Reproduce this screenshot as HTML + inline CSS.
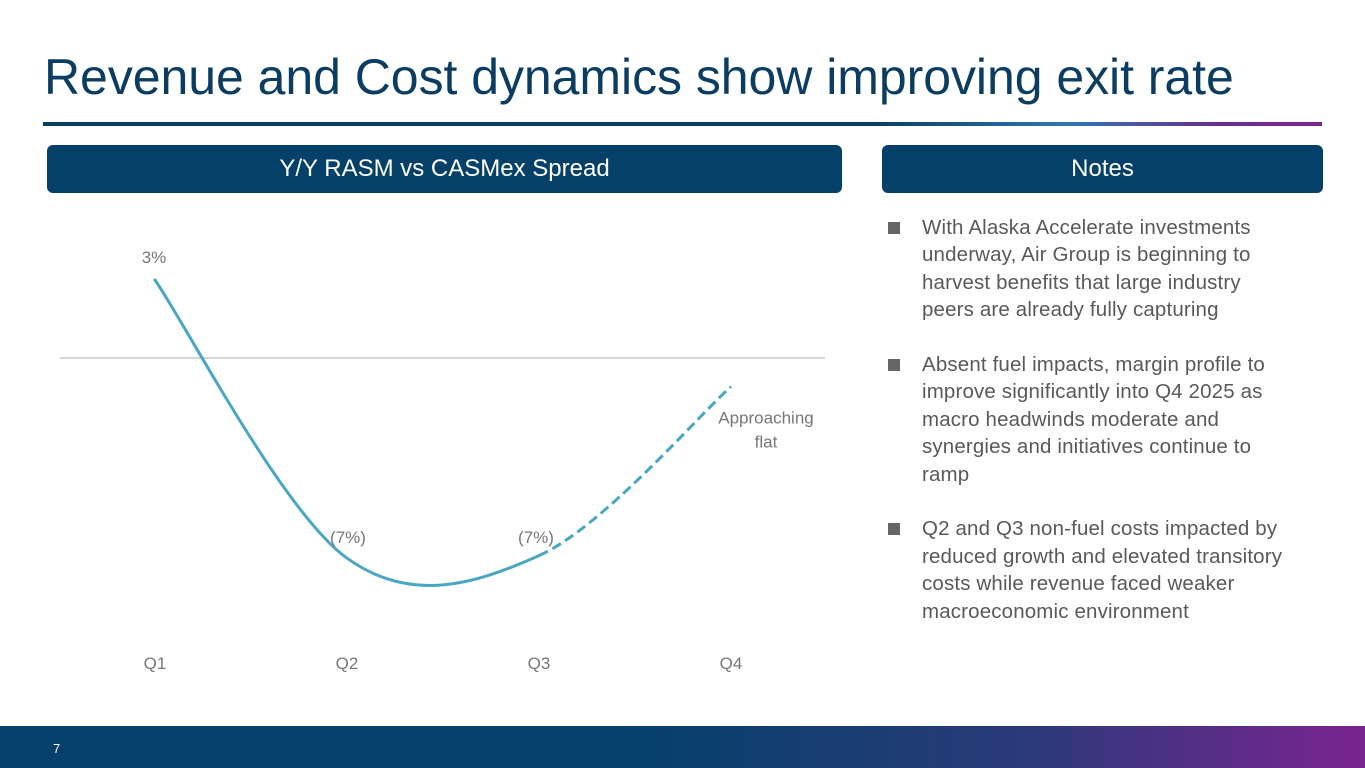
<!DOCTYPE html>
<html><head><meta charset="utf-8">
<style>
body{margin:0;width:1365px;height:768px;overflow:hidden;background:#fff;font-family:"Liberation Sans",sans-serif;position:relative}
.abs{position:absolute}
.title{left:44px;top:48px;font-size:50px;color:#0b3d63;white-space:nowrap;letter-spacing:-0.05px}
.rule{left:43px;top:122px;width:1279px;height:4px;background:linear-gradient(90deg,#0b3d63 0%,#0b3d63 65%,#2f77b0 80%,#6a2c91 92%,#7b2790 100%)}
.hdr{top:145px;height:48px;background:#044068;border-radius:6px;color:#fff;font-size:24px;line-height:48px;text-align:center}
.notes{left:888px;top:214px;font-size:20.5px;line-height:27.4px;color:#595959;letter-spacing:0.15px}
.notes .b{position:relative;padding-left:34px;margin-bottom:27.4px;white-space:nowrap}
.notes .b::before{content:"";position:absolute;left:0;top:8px;width:12px;height:12px;background:#666}
.footer{left:0;top:726px;width:1365px;height:42px;background:linear-gradient(90deg,#03416b 0%,#03416b 45%,#2a3a7a 75%,#7a2490 100%)}
.pg{left:53px;top:741px;color:#fff;font-size:13px}
</style></head><body>
<div class="abs title">Revenue and Cost dynamics show improving exit rate</div>
<div class="abs rule"></div>
<div class="abs hdr" style="left:47px;width:795px">Y/Y RASM vs CASMex Spread</div>
<div class="abs hdr" style="left:882px;width:441px">Notes</div>
<svg class="abs" style="left:0;top:0" width="860" height="720">
<g id="g"></g></svg>
<div class="abs notes">
<div class="b">With Alaska Accelerate investments<br>underway, Air Group is beginning to<br>harvest benefits that large industry<br>peers are already fully capturing</div>
<div class="b">Absent fuel impacts, margin profile to<br>improve significantly into Q4 2025 as<br>macro headwinds moderate and<br>synergies and initiatives continue to<br>ramp</div>
<div class="b">Q2 and Q3 non-fuel costs impacted by<br>reduced growth and elevated transitory<br>costs while revenue faced weaker<br>macroeconomic environment</div>
</div>
<div class="abs footer"></div>
<div class="abs pg">7</div>
<script>
const categories=["Q1","Q2","Q3","Q4"];
const values=[3,-7.7,-7.6,-1.1];
const valueLabels=["3%","(7%)","(7%)","Approaching|flat"];
const NS="http://www.w3.org/2000/svg";
const g=document.getElementById('g');
const x=i=>155+i*192;
const y=v=>358-v*26;
function mk(t,a){const e=document.createElementNS(NS,t);for(const k in a)e.setAttribute(k,a[k]);g.appendChild(e);return e;}
const zl=mk('line',{x1:60,x2:825,y1:y(0),y2:y(0),stroke:'#c8c8c8','stroke-width':1.5});


const P=values.map((v,i)=>[x(i),y(v)]);
function seg(i){const p0=P[Math.max(i-1,0)],p1=P[i],p2=P[i+1],p3=P[Math.min(i+2,P.length-1)];
const c1=[p1[0]+(p2[0]-p0[0])/6,p1[1]+(p2[1]-p0[1])/6],c2=[p2[0]-(p3[0]-p1[0])/6,p2[1]-(p3[1]-p1[1])/6];
return `C${c1[0]},${c1[1]} ${c2[0]},${c2[1]} ${p2[0]},${p2[1]}`;}
let d=`M${P[0][0]},${P[0][1]}`;for(let i=0;i<P.length-2;i++)d+=seg(i);
const sl=mk('path',{d:d,fill:'none',stroke:'#4aa7c1','stroke-width':3,'stroke-linecap':'round'});


const n=P.length;
const dl=mk('path',{d:`M${P[n-2][0]},${P[n-2][1]}`+seg(n-2),fill:'none',stroke:'#4aa7c1','stroke-width':3,'stroke-dasharray':'10 5'});


categories.forEach((c,i)=>{const t=mk('text',{x:x(i),y:669,'text-anchor':'middle','font-size':17,fill:'#777'});t.textContent=c;

});
valueLabels.forEach((l,i)=>{const parts=l.split('|');
const lx=i==3?x(i)+35:x(i)-(i==0?1:i==2?3:-1);const ly=i==0?y(values[i])-17:i==3?y(values[i])+37:y(values[i])-12;
parts.forEach((p,k)=>{const t=mk('text',{x:lx,y:(i==1||i==2)?543:ly+k*24,'text-anchor':'middle','font-size':17,fill:'#777'});t.textContent=p;

});});
</script>
</body></html>
